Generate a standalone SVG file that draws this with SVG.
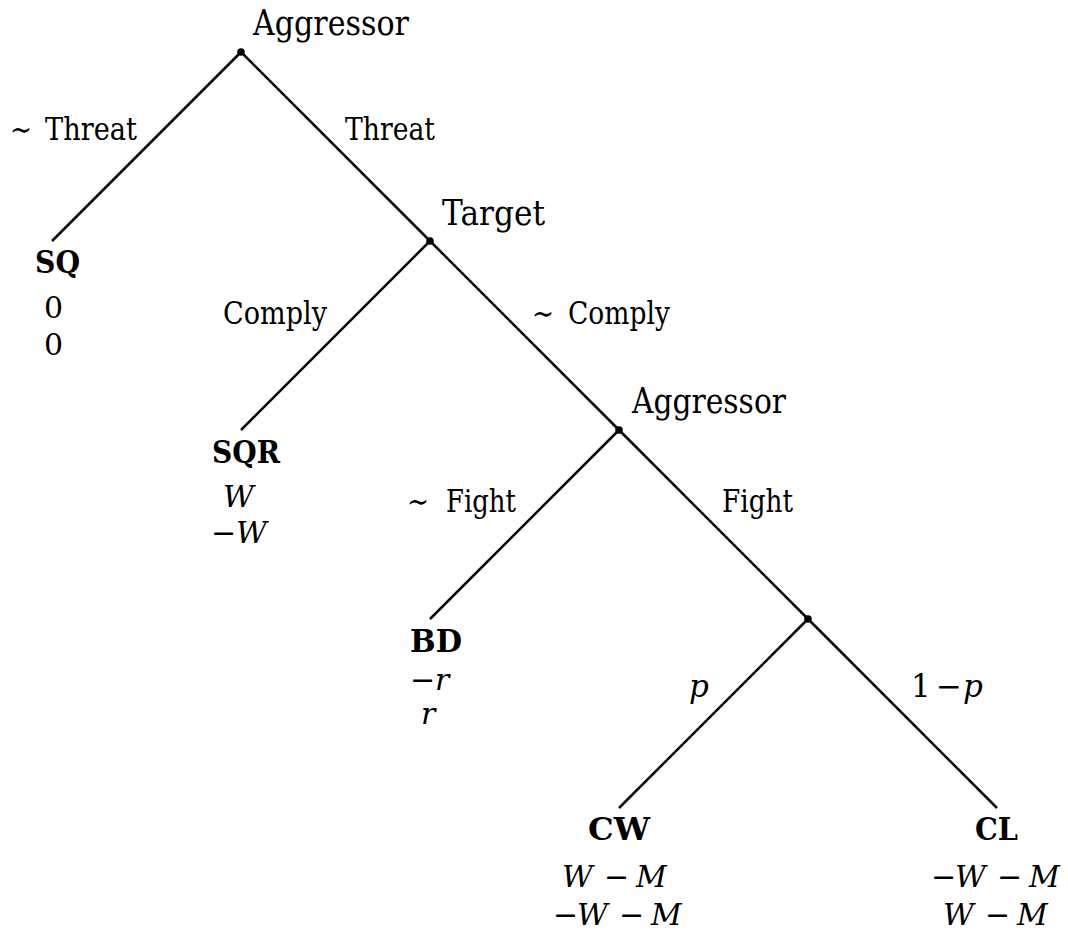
<svg xmlns="http://www.w3.org/2000/svg" width="1068" height="932" viewBox="0 0 1068 932">
<style>
text{font-family:"DejaVu Serif","Liberation Serif",serif;fill:#000}
.nm{font-size:36px}
.lb{font-size:31px}
.lf{font-size:31px;font-weight:bold}
.py{font-size:30px}
.i{font-style:italic}
.e{stroke:#000;stroke-width:2.5;fill:none;stroke-linecap:butt}
</style>
<rect width="1068" height="932" fill="#fff"/>
<g id="connectors">
<line class="e" x1="241" y1="52" x2="52" y2="241"/>
<line class="e" x1="241" y1="52" x2="430" y2="241"/>
<line class="e" x1="430" y1="241" x2="241" y2="430"/>
<line class="e" x1="430" y1="241" x2="619" y2="430"/>
<line class="e" x1="619" y1="430" x2="430" y2="619"/>
<line class="e" x1="619" y1="430" x2="808" y2="619"/>
<line class="e" x1="808" y1="619" x2="619" y2="808"/>
<line class="e" x1="808" y1="619" x2="997" y2="808"/>
<text class="lb" x="10" y="140" textLength="22" lengthAdjust="spacingAndGlyphs">∼</text>
<text class="lb" x="45" y="140" textLength="92" lengthAdjust="spacingAndGlyphs">Threat</text>
<text class="lb" x="345" y="140" textLength="90" lengthAdjust="spacingAndGlyphs">Threat</text>
<text class="lb" x="223" y="324" textLength="104" lengthAdjust="spacingAndGlyphs">Comply</text>
<text class="lb" x="532" y="324" textLength="22" lengthAdjust="spacingAndGlyphs">∼</text>
<text class="lb" x="568" y="324" textLength="102" lengthAdjust="spacingAndGlyphs">Comply</text>
<text class="lb" x="407" y="512" textLength="22" lengthAdjust="spacingAndGlyphs">∼</text>
<text class="lb" x="446" y="512" textLength="70" lengthAdjust="spacingAndGlyphs">Fight</text>
<text class="lb" x="722" y="512" textLength="71" lengthAdjust="spacingAndGlyphs">Fight</text>
<text class="lb i" x="689" y="697">p</text>
<text class="lb" y="697"><tspan x="911">1</tspan><tspan x="936">−</tspan><tspan class="i" x="963">p</tspan></text>
</g>
<g id="n-root">
<circle cx="241" cy="52" r="3.8" fill="#000"/>
<text class="nm" x="253" y="35" textLength="156" lengthAdjust="spacingAndGlyphs">Aggressor</text>
</g>
<g id="n-target">
<circle cx="430" cy="241" r="3.8" fill="#000"/>
<text class="nm" x="442" y="225" textLength="103" lengthAdjust="spacingAndGlyphs">Target</text>
</g>
<g id="n-aggressor2">
<circle cx="619" cy="430" r="3.8" fill="#000"/>
<text class="nm" x="632" y="413" textLength="154" lengthAdjust="spacingAndGlyphs">Aggressor</text>
</g>
<g id="n-chance">
<circle cx="808" cy="619" r="3.8" fill="#000"/>
</g>
<g id="n-sq">
<text class="lf" x="35" y="273" textLength="45" lengthAdjust="spacingAndGlyphs">SQ</text>
<text class="py" x="44" y="318">0</text>
<text class="py" x="44" y="355">0</text>
</g>
<g id="n-sqr">
<text class="lf" x="212" y="463" textLength="68" lengthAdjust="spacingAndGlyphs">SQR</text>
<text class="py i" x="223" y="507">W</text>
<text class="py" y="543"><tspan x="211">−</tspan><tspan class="i" x="236">W</tspan></text>
</g>
<g id="n-bd">
<text class="lf" x="410" y="652" textLength="52" lengthAdjust="spacingAndGlyphs">BD</text>
<text class="py" y="690"><tspan x="410">−</tspan><tspan class="i" x="435">r</tspan></text>
<text class="py i" x="421" y="724">r</text>
</g>
<g id="n-cw">
<text class="lf" x="588" y="840" textLength="62" lengthAdjust="spacingAndGlyphs">CW</text>
<text class="py" y="887"><tspan class="i" x="562">W</tspan><tspan x="604">−</tspan><tspan class="i" x="636">M</tspan></text>
<text class="py" y="925"><tspan x="553">−</tspan><tspan class="i" x="577">W</tspan><tspan x="619">−</tspan><tspan class="i" x="651">M</tspan></text>
</g>
<g id="n-cl">
<text class="lf" x="975" y="840" textLength="43" lengthAdjust="spacingAndGlyphs">CL</text>
<text class="py" y="887"><tspan x="931">−</tspan><tspan class="i" x="955">W</tspan><tspan x="997">−</tspan><tspan class="i" x="1029">M</tspan></text>
<text class="py" y="925"><tspan class="i" x="943">W</tspan><tspan x="985">−</tspan><tspan class="i" x="1017">M</tspan></text>
</g>
</svg>
